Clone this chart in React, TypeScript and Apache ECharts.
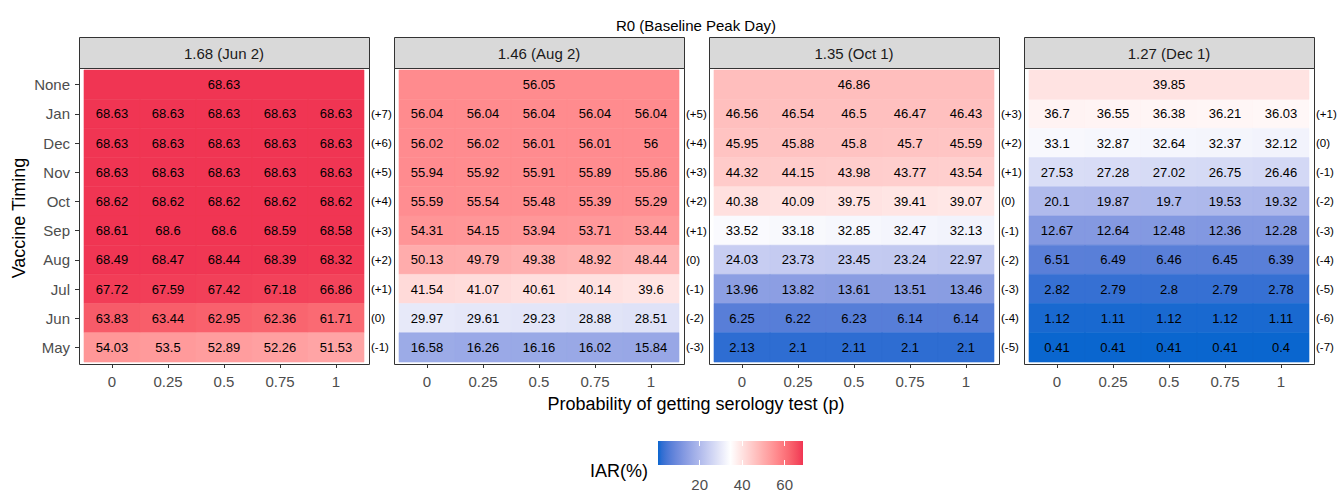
import React, { useEffect, useRef } from 'react';
import * as echarts from 'echarts';

// ---------- data ----------
const pValues = ['0', '0.25', '0.5', '0.75', '1'];
const monthRows = ['Jan', 'Dec', 'Nov', 'Oct', 'Sep', 'Aug', 'Jul', 'Jun', 'May']; // top to bottom
const panelTitles = ['1.68 (Jun 2)', '1.46 (Aug 2)', '1.35 (Oct 1)', '1.27 (Dec 1)'];
const noneValues = [68.63, 56.05, 46.86, 39.85];

const iarJun2 = [
  [68.63, 68.63, 68.63, 68.63, 68.63],
  [68.63, 68.63, 68.63, 68.63, 68.63],
  [68.63, 68.63, 68.63, 68.63, 68.63],
  [68.62, 68.62, 68.62, 68.62, 68.62],
  [68.61, 68.6, 68.6, 68.59, 68.58],
  [68.49, 68.47, 68.44, 68.39, 68.32],
  [67.72, 67.59, 67.42, 67.18, 66.86],
  [63.83, 63.44, 62.95, 62.36, 61.71],
  [54.03, 53.5, 52.89, 52.26, 51.53],
];
const iarAug2 = [
  [56.04, 56.04, 56.04, 56.04, 56.04],
  [56.02, 56.02, 56.01, 56.01, 56],
  [55.94, 55.92, 55.91, 55.89, 55.86],
  [55.59, 55.54, 55.48, 55.39, 55.29],
  [54.31, 54.15, 53.94, 53.71, 53.44],
  [50.13, 49.79, 49.38, 48.92, 48.44],
  [41.54, 41.07, 40.61, 40.14, 39.6],
  [29.97, 29.61, 29.23, 28.88, 28.51],
  [16.58, 16.26, 16.16, 16.02, 15.84],
];
const iarOct1 = [
  [46.56, 46.54, 46.5, 46.47, 46.43],
  [45.95, 45.88, 45.8, 45.7, 45.59],
  [44.32, 44.15, 43.98, 43.77, 43.54],
  [40.38, 40.09, 39.75, 39.41, 39.07],
  [33.52, 33.18, 32.85, 32.47, 32.13],
  [24.03, 23.73, 23.45, 23.24, 22.97],
  [13.96, 13.82, 13.61, 13.51, 13.46],
  [6.25, 6.22, 6.23, 6.14, 6.14],
  [2.13, 2.1, 2.11, 2.1, 2.1],
];
const iarDec1 = [
  [36.7, 36.55, 36.38, 36.21, 36.03],
  [33.1, 32.87, 32.64, 32.37, 32.12],
  [27.53, 27.28, 27.02, 26.75, 26.46],
  [20.1, 19.87, 19.7, 19.53, 19.32],
  [12.67, 12.64, 12.48, 12.36, 12.28],
  [6.51, 6.49, 6.46, 6.45, 6.39],
  [2.82, 2.79, 2.8, 2.79, 2.78],
  [1.12, 1.11, 1.12, 1.12, 1.11],
  [0.41, 0.41, 0.41, 0.41, 0.4],
];

const shiftJun2 = ['(+7)', '(+6)', '(+5)', '(+4)', '(+3)', '(+2)', '(+1)', '(0)', '(-1)'];
const shiftAug2 = ['(+5)', '(+4)', '(+3)', '(+2)', '(+1)', '(0)', '(-1)', '(-2)', '(-3)'];
const shiftOct1 = ['(+3)', '(+2)', '(+1)', '(0)', '(-1)', '(-2)', '(-3)', '(-4)', '(-5)'];
const shiftDec1 = ['(+1)', '(0)', '(-1)', '(-2)', '(-3)', '(-4)', '(-5)', '(-6)', '(-7)'];

const legendTicks = [20, 40, 60];

const panelValues = [iarJun2, iarAug2, iarOct1, iarDec1];
const panelShifts = [shiftJun2, shiftAug2, shiftOct1, shiftDec1];

// ---------- colour scale (Lab interpolation, like ggplot) ----------
const LOW = '#0A66CF';
const MID = '#FFFFFF';
const HIGH = '#F03553';

function hexToRgb(h: string) {
  return [parseInt(h.slice(1, 3), 16), parseInt(h.slice(3, 5), 16), parseInt(h.slice(5, 7), 16)];
}
function toLin(c: number) {
  c /= 255;
  return c <= 0.04045 ? c / 12.92 : Math.pow((c + 0.055) / 1.055, 2.4);
}
function fromLin(c: number) {
  const v = c <= 0.0031308 ? 12.92 * c : 1.055 * Math.pow(Math.max(c, 0), 1 / 2.4) - 0.055;
  return Math.round(Math.max(0, Math.min(1, v)) * 255);
}
function rgbToLab(rgb: number[]) {
  const R = toLin(rgb[0]), G = toLin(rgb[1]), B = toLin(rgb[2]);
  const X = (0.4124564 * R + 0.3575761 * G + 0.1804375 * B) / 0.95047;
  const Y = 0.2126729 * R + 0.7151522 * G + 0.072175 * B;
  const Z = (0.0193339 * R + 0.119192 * G + 0.9503041 * B) / 1.08883;
  const f = (t: number) => (t > 216 / 24389 ? Math.cbrt(t) : ((24389 / 27) * t + 16) / 116);
  const fx = f(X), fy = f(Y), fz = f(Z);
  return [116 * fy - 16, 500 * (fx - fy), 200 * (fy - fz)];
}
function labToHex(lab: number[]) {
  const fy = (lab[0] + 16) / 116;
  const fx = fy + lab[1] / 500;
  const fz = fy - lab[2] / 200;
  const finv = (t: number) => (t * t * t > 216 / 24389 ? t * t * t : (116 * t - 16) / (24389 / 27));
  const X = finv(fx) * 0.95047, Y = finv(fy), Z = finv(fz) * 1.08883;
  const R = 3.2404542 * X - 1.5371385 * Y - 0.4985314 * Z;
  const G = -0.969266 * X + 1.8760108 * Y + 0.041556 * Z;
  const B = 0.0556434 * X - 0.2040259 * Y + 1.0572252 * Z;
  const h = (n: number) => n.toString(16).padStart(2, '0');
  return '#' + h(fromLin(R)) + h(fromLin(G)) + h(fromLin(B));
}
function buildStops(n: number) {
  const lo = rgbToLab(hexToRgb(LOW)), mi = rgbToLab(hexToRgb(MID)), hi = rgbToLab(hexToRgb(HIGH));
  const out: string[] = [];
  for (let i = 0; i < n; i++) {
    const t = i / (n - 1);
    let a: number[], b: number[], u: number;
    if (t <= 0.5) { a = lo; b = mi; u = t / 0.5; } else { a = mi; b = hi; u = (t - 0.5) / 0.5; }
    out.push(labToHex([a[0] + (b[0] - a[0]) * u, a[1] + (b[1] - a[1]) * u, a[2] + (b[2] - a[2]) * u]));
  }
  return out;
}

const FONT = '"Liberation Sans", Arial, Helvetica, sans-serif';

export default function App() {
  const ref = useRef<HTMLDivElement>(null);

  useEffect(() => {
    document.body.style.margin = '0';
    if (!ref.current) return;
    const chart = echarts.init(ref.current, null, { renderer: 'svg' });

    const allVals = panelValues.flat(2).concat(noneValues);
    const vmin = Math.min(...allVals);
    const vmax = Math.max(...allVals);
    const stops = buildStops(41);

    const panelX0 = [79, 394, 709, 1024];
    const boxW = 290;
    const boxTop = 68;
    const boxBottom = 364;
    const stripTop = 37;

    const yCats = [...monthRows].reverse().concat(['None']);

    const grids: any[] = [];
    const xAxes: any[] = [];
    const yAxes: any[] = [];
    const series: any[] = [];
    const graphics: any[] = [];

    panelX0.forEach((x0, p) => {
      grids.push({ left: x0 + 5, top: 70, width: 280, height: 292 });
      xAxes.push({
        type: 'category',
        gridIndex: p,
        data: pValues,
        offset: 2,
        axisLine: { show: false },
        axisTick: { show: true, alignWithLabel: true, length: 4, lineStyle: { color: '#333333' } },
        axisLabel: { fontSize: 15, color: '#4D4D4D', fontFamily: FONT, margin: 10 },
        splitLine: { show: false },
      });
      yAxes.push({
        type: 'category',
        gridIndex: p,
        data: yCats,
        position: 'left',
        offset: 5,
        axisLine: { show: false },
        axisTick: { show: p === 0, alignWithLabel: true, length: 4, lineStyle: { color: '#333333' } },
        axisLabel: { show: p === 0, fontSize: 15, color: '#4D4D4D', fontFamily: FONT, margin: 9 },
        splitLine: { show: false },
      });
      yAxes.push({
        type: 'category',
        gridIndex: p,
        data: [...panelShifts[p]].reverse().concat(['']),
        position: 'right',
        axisLine: { show: false },
        axisTick: { show: false },
        axisLabel: { fontSize: 11.5, color: '#000000', fontFamily: FONT, margin: 7 },
        splitLine: { show: false },
      });

      const data: number[][] = [];
      panelValues[p].forEach((row, i) => {
        row.forEach((v, c) => data.push([c, 8 - i, v, 0]));
      });
      data.push([2, 9, noneValues[p], 1]);

      series.push({
        type: 'custom',
        xAxisIndex: p,
        yAxisIndex: p * 2,
        data,
        encode: { x: 0, y: 1 },
        renderItem: (params: any, api: any) => {
          const xi = api.value(0);
          const yi = api.value(1);
          const v = api.value(2);
          const span = api.value(3);
          const size = api.size([1, 1]);
          const w = size[0], h = size[1];
          const cc = api.coord([xi, yi]);
          const cw = span ? w * 5 : w;
          const color = api.visual('color');
          return {
            type: 'group',
            children: [
              {
                type: 'rect',
                shape: { x: cc[0] - cw / 2, y: cc[1] - h / 2, width: cw, height: h },
                style: { fill: color, stroke: color, lineWidth: 0.6 },
              },
              {
                type: 'text',
                style: {
                  text: String(v),
                  x: cc[0],
                  y: cc[1],
                  align: 'center',
                  verticalAlign: 'middle',
                  fill: '#000000',
                  font: '13px ' + FONT,
                },
              },
            ],
          };
        },
      });

      // strip
      graphics.push({
        type: 'rect',
        shape: { x: x0 + 0.5, y: stripTop + 0.5, width: boxW, height: boxTop - stripTop },
        style: { fill: '#D9D9D9', stroke: '#333333', lineWidth: 1 },
        z: 10,
      });
      graphics.push({
        type: 'text',
        x: x0 + boxW / 2,
        y: (stripTop + boxTop) / 2 + 1,
        style: { text: panelTitles[p], align: 'center', verticalAlign: 'middle', fill: '#1A1A1A', font: '15px ' + FONT },
        z: 11,
      });
      // panel border
      graphics.push({
        type: 'rect',
        shape: { x: x0 + 0.5, y: boxTop + 0.5, width: boxW, height: boxBottom - boxTop },
        style: { fill: 'none', stroke: '#333333', lineWidth: 1 },
        z: 10,
      });
    });

    // legend grid
    const lg = 4;
    grids.push({ left: 658, top: 441, width: 145, height: 28 });
    xAxes.push({
      type: 'value',
      gridIndex: lg,
      min: vmin,
      max: vmax,
      z: 10,
      axisLine: { show: false },
      splitLine: { show: false },
      axisTick: { show: true, inside: true, length: 5, customValues: legendTicks, lineStyle: { color: '#FFFFFF', width: 1 } },
      axisLabel: { customValues: legendTicks, fontSize: 15, color: '#4D4D4D', fontFamily: FONT, margin: 12 },
    });
    xAxes.push({
      type: 'value',
      gridIndex: lg,
      position: 'top',
      min: vmin,
      max: vmax,
      z: 10,
      axisLine: { show: false },
      splitLine: { show: false },
      axisTick: { show: true, inside: true, length: 5, customValues: legendTicks, lineStyle: { color: '#FFFFFF', width: 1 } },
      axisLabel: { show: false },
    });
    yAxes.push({ type: 'value', gridIndex: lg, min: 0, max: 1, show: false });

    const gradStops = stops.map((c, i) => ({ offset: i / (stops.length - 1), color: c }));
    series.push({
      type: 'custom',
      xAxisIndex: 4,
      yAxisIndex: 8,
      z: 1,
      data: [[vmin, vmax]],
      renderItem: (params: any, api: any) => {
        const p0 = api.coord([api.value(0), 0]);
        const p1 = api.coord([api.value(1), 1]);
        return {
          type: 'rect',
          shape: { x: p0[0], y: p1[1], width: p1[0] - p0[0], height: p0[1] - p1[1] },
          style: { fill: new echarts.graphic.LinearGradient(0, 0, 1, 0, gradStops) },
        };
      },
    });

    // titles
    graphics.push({
      type: 'text',
      x: 696,
      y: 25,
      style: { text: 'R0 (Baseline Peak Day)', align: 'center', verticalAlign: 'middle', fill: '#000000', font: '15px ' + FONT },
    });
    graphics.push({
      type: 'text',
      x: 696,
      y: 404,
      style: {
        text: 'Probability of getting serology test (p)',
        align: 'center',
        verticalAlign: 'middle',
        fill: '#000000',
        font: '18px ' + FONT,
      },
    });
    graphics.push({
      type: 'text',
      x: 19,
      y: 218,
      rotation: Math.PI / 2,
      style: { text: 'Vaccine Timing', align: 'center', verticalAlign: 'middle', fill: '#000000', font: '18px ' + FONT },
    });
    graphics.push({
      type: 'text',
      x: 648,
      y: 471,
      style: { text: 'IAR(%)', align: 'right', verticalAlign: 'middle', fill: '#000000', font: '18px ' + FONT },
    });

    chart.setOption({
      animation: false,
      backgroundColor: '#FFFFFF',
      grid: grids,
      xAxis: xAxes,
      yAxis: yAxes,
      visualMap: {
        type: 'continuous',
        show: false,
        min: vmin,
        max: vmax,
        dimension: 2,
        seriesIndex: [0, 1, 2, 3],
        inRange: { color: stops },
      },
      series,
      graphic: graphics,
    });

    return () => chart.dispose();
  }, []);

  return <div ref={ref} style={{ width: 1341, height: 492 }} />;
}
